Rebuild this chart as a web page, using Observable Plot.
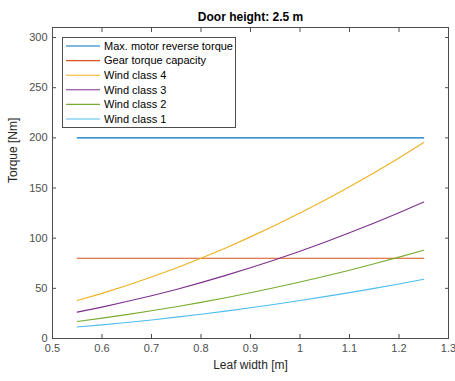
<!DOCTYPE html>
<html>
<head>
<meta charset="utf-8">
<script src="https://cdn.jsdelivr.net/npm/d3@7"></script>
<script src="https://cdn.jsdelivr.net/npm/@observablehq/plot@0.6"></script>
<style>
  html, body { margin: 0; padding: 0; background: #fff; }
  #chart svg { display: block; }
</style>
</head>
<body>
<div id="chart"></div>
<script>
// Leaf widths (m) at which torques were evaluated
const widths = [0.55, 0.60, 0.65, 0.70, 0.75, 0.80, 0.85, 0.90, 0.95, 1.00, 1.05, 1.10, 1.15, 1.20, 1.25];

// Limits (Nm)
const maxMotorReverseTorque = 200;
const gearTorqueCapacity = 80;

// Required torque per wind class (Nm), door height 2.5 m
const windClass4 = [37.8, 45.0, 52.8, 61.3, 70.3, 80.0, 90.3, 101.3, 112.8, 125.0, 137.8, 151.3, 165.3, 180.0, 195.3];
const windClass3 = [26.3, 31.3, 36.8, 42.6, 48.9, 55.7, 62.9, 70.5, 78.5, 87.0, 95.9, 105.3, 115.1, 125.3, 136.0];
const windClass2 = [17.0, 20.3, 23.8, 27.6, 31.7, 36.0, 40.7, 45.6, 50.8, 56.3, 62.1, 68.1, 74.5, 81.1, 88.0];
const windClass1 = [11.4, 13.6, 16.0, 18.5, 21.3, 24.2, 27.3, 30.6, 34.1, 37.8, 41.7, 45.7, 50.0, 54.4, 59.1];

const seriesNames = ["Max. motor reverse torque", "Gear torque capacity", "Wind class 4", "Wind class 3", "Wind class 2", "Wind class 1"];
const seriesColors = ["#0072BD", "#D95319", "#EDB120", "#7E2F8E", "#77AC30", "#4DBEEE"];

const xTicks = [0.5, 0.6, 0.7, 0.8, 0.9, 1.0, 1.1, 1.2, 1.3];
const yTicks = [0, 50, 100, 150, 200, 250, 300];

// Long-format table built from the arrays above
const curves = [
  widths.map(() => maxMotorReverseTorque),
  widths.map(() => gearTorqueCapacity),
  windClass4, windClass3, windClass2, windClass1
];
const rows = curves.flatMap((vals, i) =>
  vals.map((t, j) => ({series: seriesNames[i], width: widths[j], torque: t}))
);

const axisColor = "#4d4d4d";
const font = "'Liberation Sans', Arial, Helvetica, sans-serif";

const chart = Plot.plot({
  width: 455,
  height: 381,
  marginLeft: 52,
  marginRight: 7,
  marginTop: 27,
  marginBottom: 43,
  style: {fontFamily: font, background: "#fff", overflow: "visible"},
  x: {domain: [0.5, 1.3]},
  y: {domain: [0, 310]},
  color: {domain: seriesNames, range: seriesColors},
  marks: [
    // torque curves
    Plot.line(rows, {x: "width", y: "torque", z: "series", stroke: "series", strokeWidth: 1.1}),
    // box around the axes
    Plot.frame({stroke: axisColor, strokeWidth: 1}),
    // tick labels
    Plot.axisX({ticks: xTicks, tickSize: 0, tickPadding: 6, tickFormat: d => String(d), fontSize: 11, color: axisColor, label: null}),
    Plot.axisY({ticks: yTicks, tickSize: 0, tickPadding: 5, tickFormat: d => String(d), fontSize: 11, color: axisColor, label: null}),
    // inward tick marks on all four sides
    Plot.axisX({ticks: xTicks, anchor: "bottom", tickSize: 4, dy: -4, text: null, label: null, stroke: axisColor}),
    Plot.axisX({ticks: xTicks, anchor: "top", tickSize: 4, dy: 4, text: null, label: null, stroke: axisColor}),
    Plot.axisY({ticks: yTicks, anchor: "left", tickSize: 4, dx: 4, text: null, label: null, stroke: axisColor}),
    Plot.axisY({ticks: yTicks, anchor: "right", tickSize: 4, dx: -4, text: null, label: null, stroke: axisColor}),
    // title and axis labels
    Plot.text(["Door height: 2.5 m"], {frameAnchor: "top", dy: -15, fontSize: 12, fontWeight: "bold", fill: "#000"}),
    Plot.text(["Leaf width [m]"], {frameAnchor: "bottom", dy: 30, fontSize: 12, fill: "#262626"}),
    Plot.text(["Torque [Nm]"], {frameAnchor: "left", dx: -39, rotate: -90, fontSize: 12, fill: "#262626"})
  ]
});

// Legend box in the upper-left corner of the axes
const svg = d3.select(chart);
const lg = svg.append("g")
  .attr("font-family", font).attr("font-size", 11).attr("text-anchor", "start");
lg.append("rect")
  .attr("x", 62.5).attr("y", 37.5).attr("width", 173).attr("height", 90)
  .attr("fill", "#fff").attr("stroke", axisColor).attr("stroke-width", 1);
seriesNames.forEach((name, i) => {
  const yy = 46 + i * 14.6;
  lg.append("line")
    .attr("x1", 66).attr("x2", 100).attr("y1", yy).attr("y2", yy)
    .attr("stroke", seriesColors[i]).attr("stroke-width", 1.1);
  lg.append("text")
    .attr("x", 104).attr("y", yy).attr("dy", "0.35em")
    .attr("fill", "#000").text(name);
});

document.getElementById("chart").appendChild(chart);
</script>
</body>
</html>
